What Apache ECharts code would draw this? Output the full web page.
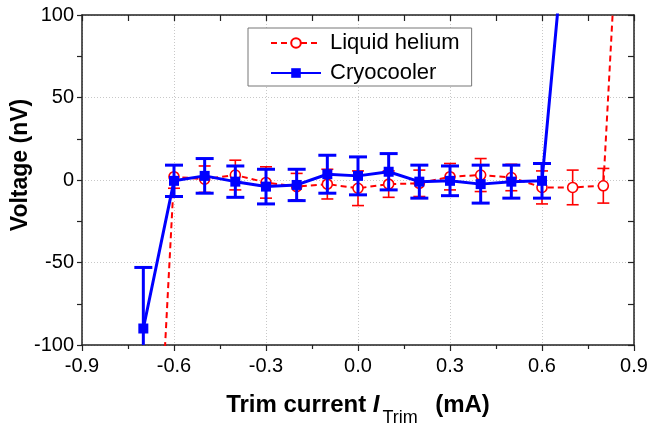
<!DOCTYPE html>
<html>
<head>
<meta charset="utf-8">
<script src="https://cdn.jsdelivr.net/npm/echarts@6/dist/echarts.min.js"></script>
<style>
  html, body { margin: 0; padding: 0; background: #fff; }
  #chart { width: 649px; height: 425px; }
</style>
</head>
<body>
<div id="chart"></div>
<script>
// Trim current (mA) for each measurement set
var heliumCurrent = [-0.7, -0.6, -0.5, -0.4, -0.3, -0.2, -0.1, 0.0, 0.1, 0.2, 0.3, 0.4, 0.5, 0.6, 0.7, 0.8, 0.9];
var heliumVoltage = [-350, 2, 0.5, 3, -1.5, -4, -2.5, -5, -2.5, -2, 2, 3, 1.5, -4.5, -4.5, -3.5, 340];
var heliumError   = [0, 7, 8, 9, 9.5, 8, 9, 10.5, 8, 8, 8, 10, 8, 10, 10.5, 10.5, 0];

var cryoCurrent = [-0.7, -0.6, -0.5, -0.4, -0.3, -0.2, -0.1, 0.0, 0.1, 0.2, 0.3, 0.4, 0.5, 0.6, 0.7];
var cryoVoltage = [-90, -0.5, 2.5, -1, -4, -3, 3.5, 2.5, 5, -1, -0.5, -2.5, -1, -0.5, 200];
var cryoError   = [37, 9.5, 10.5, 9.5, 10.5, 9.5, 11.5, 11.5, 11, 10, 9, 11.5, 10, 10.5, 0];

var xTicks = { min: -0.9, max: 0.9, interval: 0.3 };
var yTicks = { min: -100, max: 100, interval: 50 };

function pairs(xs, ys) {
  return xs.map(function (x, i) { return [x, ys[i]]; });
}
function errRows(xs, ys, es) {
  return xs.map(function (x, i) { return [x, ys[i] - es[i], ys[i] + es[i]]; });
}

// Error bar: vertical stem with caps, clipped to the plotting area
function errorBar(color, width, capHalf) {
  return function (params, api) {
    var cs = params.coordSys;
    var top = cs.y, bottom = cs.y + cs.height;
    var lo = api.coord([api.value(0), api.value(1)]);
    var hi = api.coord([api.value(0), api.value(2)]);
    var x = lo[0];
    if (x < cs.x - 1 || x > cs.x + cs.width + 1) return null;
    if (api.value(2) - api.value(1) <= 0) return null;
    var y1 = Math.max(top, Math.min(bottom, hi[1]));
    var y2 = Math.max(top, Math.min(bottom, lo[1]));
    if (y1 === y2) return null;
    var style = { stroke: color, lineWidth: width, fill: null };
    var children = [{ type: 'line', shape: { x1: x, y1: y1, x2: x, y2: y2 }, style: style }];
    if (hi[1] >= top && hi[1] <= bottom) {
      children.push({ type: 'line', shape: { x1: x - capHalf, y1: hi[1], x2: x + capHalf, y2: hi[1] }, style: style });
    }
    if (lo[1] >= top && lo[1] <= bottom) {
      children.push({ type: 'line', shape: { x1: x - capHalf, y1: lo[1], x2: x + capHalf, y2: lo[1] }, style: style });
    }
    return { type: 'group', children: children };
  };
}

var textColor = '#000';
var axisColor = '#222';
var font = '"Liberation Sans", Arial, sans-serif';

var chart = echarts.init(document.getElementById('chart'), null, { renderer: 'canvas' });

chart.setOption({
  animation: false,
  backgroundColor: '#fff',
  grid: { left: 82, right: 15, top: 15, bottom: 80, containLabel: false, outerBoundsMode: 'none' },
  legend: {
    left: 248, top: 28,
    orient: 'vertical',
    itemWidth: 50, itemHeight: 12, itemGap: 8,
    padding: [4, 12, 2, 22],
    borderColor: '#777', borderWidth: 1,
    backgroundColor: '#fff',
    textStyle: { fontFamily: font, fontSize: 22, color: textColor, padding: [0, 0, 0, 4] },
    data: ['Liquid helium', 'Cryocooler']
  },
  xAxis: [{
    type: 'value', position: 'bottom',
    min: xTicks.min, max: xTicks.max, interval: xTicks.interval,
    name: '{b|Trim current }{i|I}{s|Trim}{b|  (mA)}',
    nameLocation: 'middle', nameGap: 70, nameMoveOverlap: false,
    nameTextStyle: {
      verticalAlign: 'middle',
      rich: {
        b: { fontFamily: font, fontSize: 24, fontWeight: 'bold', color: textColor, verticalAlign: 'bottom', lineHeight: 24, padding: [0, 0, 10, 0] },
        i: { fontFamily: font, fontSize: 24, fontWeight: 'bold', fontStyle: 'italic', color: textColor, verticalAlign: 'bottom', lineHeight: 24, padding: [0, 2, 10, 0] },
        s: { fontFamily: font, fontSize: 18, color: textColor, verticalAlign: 'bottom', lineHeight: 18, padding: [0, 4, 0, 1] }
      }
    },
    axisLine: { onZero: false, lineStyle: { color: axisColor, width: 1.5 } },
    axisTick: { inside: false, length: 6, lineStyle: { color: axisColor, width: 1.2 } },
    minorTick: { show: true, splitNumber: 2, length: 4, lineStyle: { color: axisColor, width: 1.2 } },
    axisLabel: {
      fontFamily: font, fontSize: 20, color: textColor, margin: 11,
      formatter: function (v) { return v.toFixed(1); }
    },
    splitLine: { show: true, lineStyle: { color: '#c8c8c8', type: [1, 2], width: 1 } }
  }, {
    type: 'value', position: 'top',
    min: xTicks.min, max: xTicks.max, interval: xTicks.interval,
    axisLine: { onZero: false, lineStyle: { color: axisColor, width: 1.5 } },
    axisTick: { inside: true, length: 6, lineStyle: { color: axisColor, width: 1.2 } },
    minorTick: { show: true, splitNumber: 2, length: 6, lineStyle: { color: axisColor, width: 1.2 } },
    axisLabel: { show: false },
    splitLine: { show: false }
  }],
  yAxis: [{
    type: 'value', position: 'left',
    min: yTicks.min, max: yTicks.max, interval: yTicks.interval,
    name: 'Voltage (nV)',
    nameLocation: 'middle', nameGap: 61, nameMoveOverlap: false,
    nameTextStyle: {
      fontFamily: font, fontSize: 23, fontWeight: 'bold', color: textColor,
      verticalAlign: 'middle', padding: [0, 0, 0, 30]
    },
    axisLine: { onZero: false, lineStyle: { color: axisColor, width: 1.5 } },
    axisTick: { inside: false, length: 5, lineStyle: { color: axisColor, width: 1.2 } },
    minorTick: { show: true, splitNumber: 2, length: 5, lineStyle: { color: axisColor, width: 1.2 } },
    axisLabel: { fontFamily: font, fontSize: 20, color: textColor, margin: 8 },
    splitLine: { show: true, lineStyle: { color: '#c8c8c8', type: [1, 2], width: 1 } }
  }, {
    type: 'value', position: 'right',
    min: yTicks.min, max: yTicks.max, interval: yTicks.interval,
    axisLine: { onZero: false, lineStyle: { color: axisColor, width: 1.5 } },
    axisTick: { inside: true, length: 6, lineStyle: { color: axisColor, width: 1.2 } },
    minorTick: { show: true, splitNumber: 2, length: 6, lineStyle: { color: axisColor, width: 1.2 } },
    axisLabel: { show: false },
    splitLine: { show: false }
  }],
  series: [{
    name: 'Liquid helium',
    type: 'line',
    data: pairs(heliumCurrent, heliumVoltage),
    clip: true,
    symbol: 'circle', symbolSize: 10,
    itemStyle: { color: '#fff', borderColor: '#ff0000', borderWidth: 1.6 },
    lineStyle: { color: '#ff0000', width: 2, type: [6, 4] },
    z: 3
  }, {
    name: 'helium-err',
    type: 'custom',
    data: errRows(heliumCurrent, heliumVoltage, heliumError),
    renderItem: errorBar('#ff0000', 1.6, 6),
    encode: { x: 0, y: [1, 2] },
    z: 2
  }, {
    name: 'cryo-err',
    type: 'custom',
    data: errRows(cryoCurrent, cryoVoltage, cryoError),
    renderItem: errorBar('#0000ff', 3, 9),
    encode: { x: 0, y: [1, 2] },
    z: 4
  }, {
    name: 'Cryocooler',
    type: 'line',
    data: pairs(cryoCurrent, cryoVoltage),
    clip: true,
    symbol: 'rect', symbolSize: 10,
    itemStyle: { color: '#0000ff' },
    lineStyle: { color: '#0000ff', width: 3 },
    z: 5
  }]
});
</script>
</body>
</html>
